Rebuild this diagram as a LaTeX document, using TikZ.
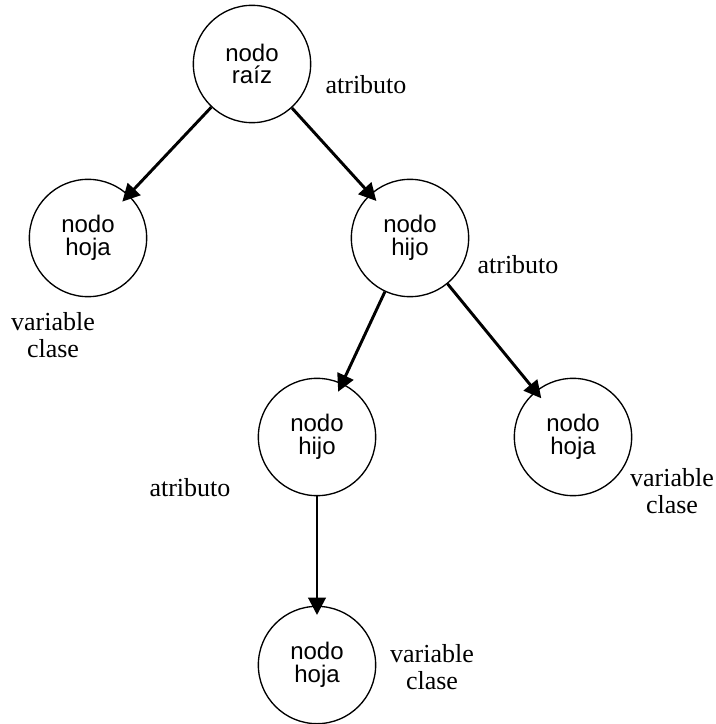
\documentclass[tikz,border=0pt]{standalone}
\usepackage{fontspec}
\setmainfont{Liberation Serif}
\setsansfont{Liberation Sans}
\usetikzlibrary{arrows.meta}

\begin{document}
\begin{tikzpicture}[x=0.75pt,y=-0.75pt,
    nodo/.style={draw,circle,line width=1pt,minimum size=88pt,inner sep=0pt,
      align=center,font=\sffamily\fontsize{18}{17}\selectfont},
    etiq/.style={align=center,font=\fontsize{19.5}{20}\selectfont},
    rama/.style={line width=2.2pt,-{Triangle[length=13pt,width=13pt]},shorten >=-7pt}]
  \useasboundingbox (0,0) rectangle (716,724);

  % arbol
  \node[nodo] (raiz)  at (252,64)  {nodo\\raíz};
  \node[nodo] (hoja1) at (88,238)  {nodo\\hoja};
  \node[nodo] (hijo1) at (410,238) {nodo\\hijo};
  \node[nodo] (hijo2) at (317,437) {nodo\\hijo};
  \node[nodo] (hoja2) at (573,437) {nodo\\hoja};
  \node[nodo] (hoja3) at (317,665) {nodo\\hoja};

  \draw[rama] (raiz) -- (hoja1);
  \draw[rama] (raiz) -- (hijo1);
  \draw[rama] (hijo1) -- (hijo2);
  \draw[rama] (hijo1) -- (hoja2);
  \draw[rama] (hijo2) -- (hoja3);

  % etiquetas
  \node[etiq] (atr1) at (366,85)  {atributo};
  \node[etiq] (atr2) at (518,265) {atributo};
  \node[etiq] (atr3) at (190,488) {atributo};
  \node[etiq] (var1) at (53,335)  {variable\\clase};
  \node[etiq] (var2) at (672,491) {variable\\clase};
  \node[etiq] (var3) at (432,667) {variable\\clase};
\end{tikzpicture}
\end{document}
